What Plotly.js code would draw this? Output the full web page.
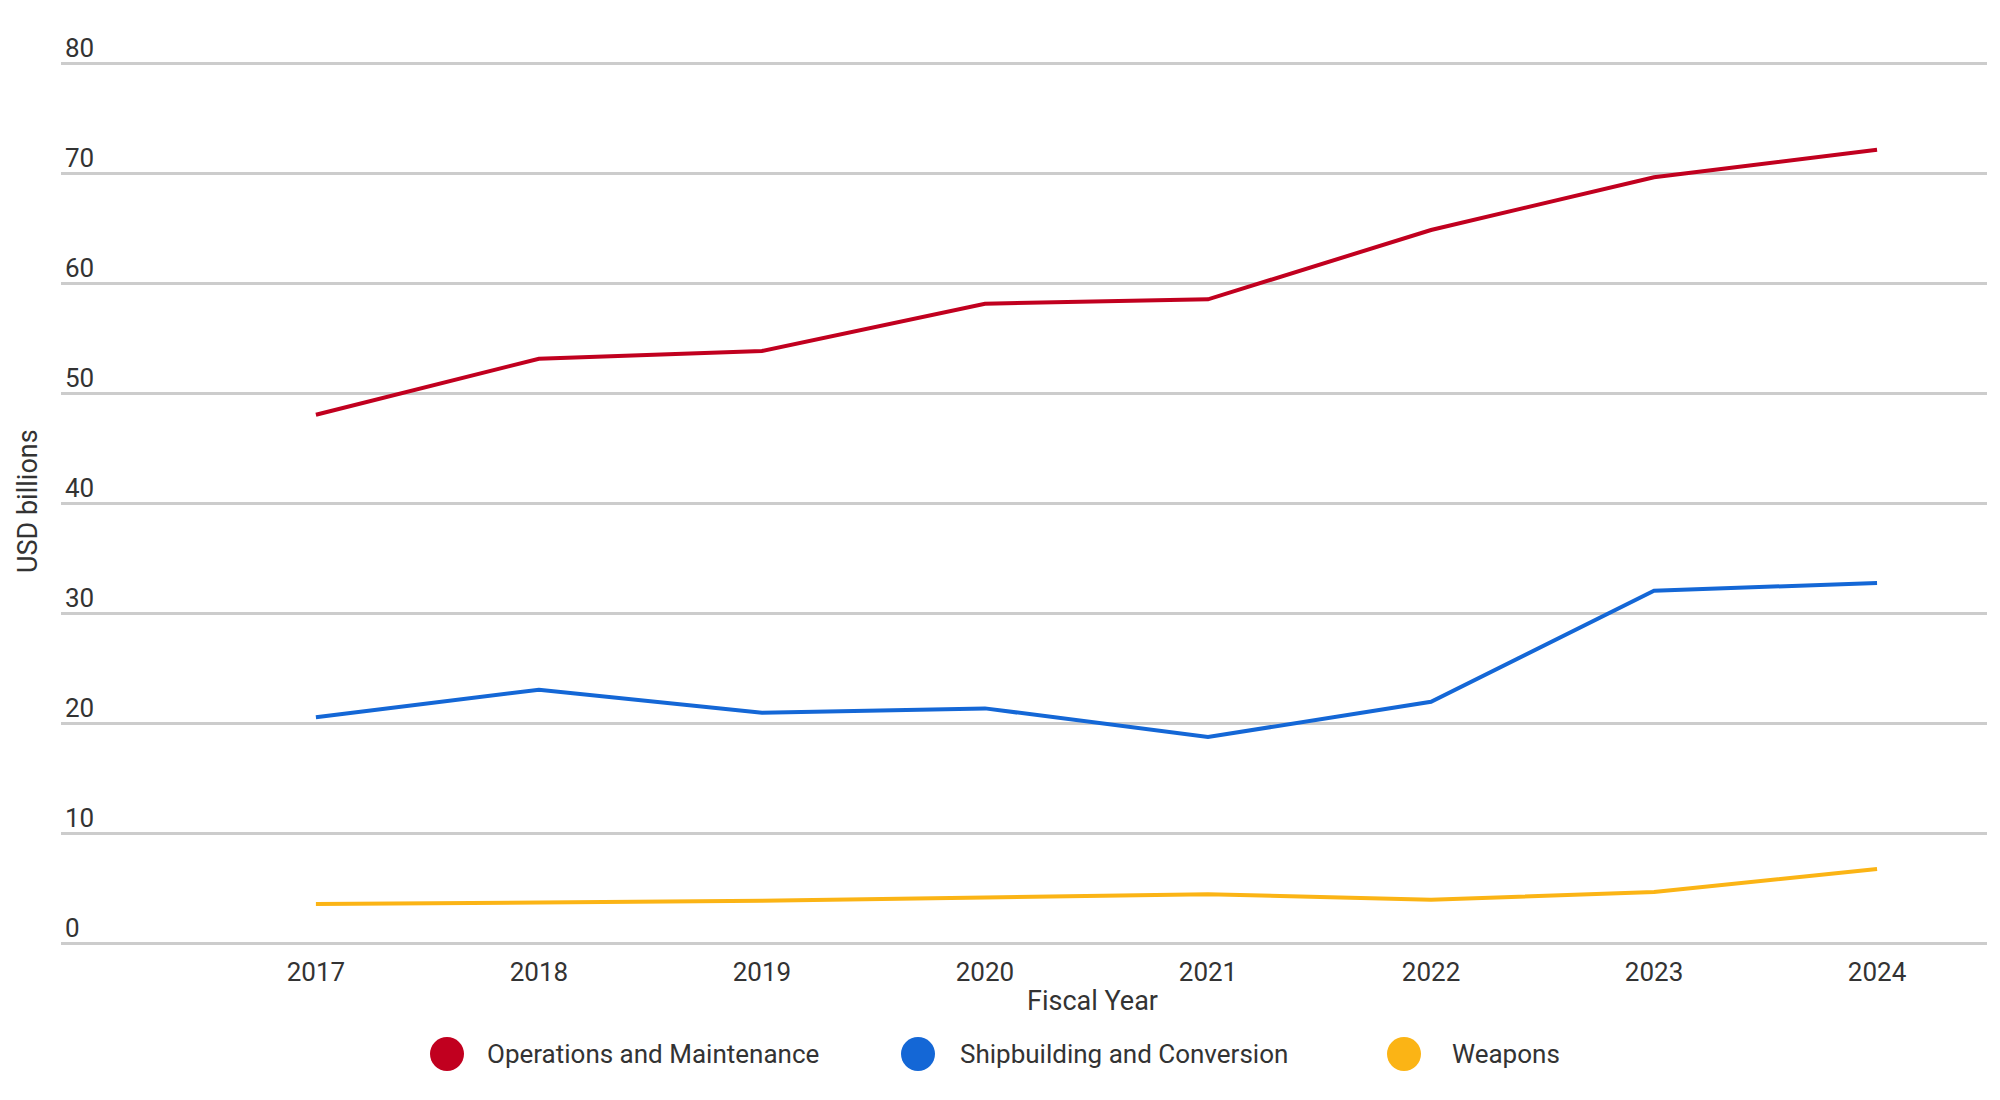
<!DOCTYPE html>
<html>
<head>
<meta charset="utf-8">
<script src="https://cdn.plot.ly/plotly-3.0.1.min.js"></script>
<style>html,body{margin:0;padding:0;background:#fff;}#chart{width:2000px;height:1100px;}</style>
</head>
<body>
<div id="chart"></div>
<script>
const years = [2017, 2018, 2019, 2020, 2021, 2022, 2023, 2024];
const operationsMaintenance = [48.1, 53.2, 53.9, 58.2, 58.6, 64.9, 69.7, 72.2];
const shipbuildingConversion = [20.6, 23.1, 21.0, 21.4, 18.8, 22.0, 32.1, 32.8];
const weapons = [3.6, 3.75, 3.9, 4.2, 4.5, 4.0, 4.7, 6.8];
const seriesNames = ["Operations and Maintenance", "Shipbuilding and Conversion", "Weapons"];
const seriesColors = ["#c1001f", "#1467d6", "#fbb415"];
const yTicks = [0, 10, 20, 30, 40, 50, 60, 70, 80];

const W = 2000, H = 1100;
const M = {l: 61, r: 13, t: 20, b: 153};
const PW = W - M.l - M.r, PH = H - M.t - M.b;
const px = v => (v - M.l) / PW;
const py = v => (H - M.b - v) / PH;

const textColor = "#333333";
const font = "Roboto, 'Noto Sans', sans-serif";

const data = [operationsMaintenance, shipbuildingConversion, weapons].map((vals, i) => ({
  type: "scatter",
  mode: "lines",
  x: years,
  y: vals,
  name: seriesNames[i],
  line: {color: seriesColors[i], width: 4},
  showlegend: false
}));

const legendX = [447, 918, 1404];
const legendTextX = [485, 958, 1450];
const legendY = 1054;
const shapes = legendX.map((cx, i) => ({
  type: "circle", xref: "paper", yref: "paper",
  x0: px(cx - 17), x1: px(cx + 17), y0: py(legendY + 17), y1: py(legendY - 17),
  fillcolor: seriesColors[i], line: {width: 0}
}));
const annotations = legendTextX.map((tx, i) => ({
  xref: "paper", yref: "paper", x: px(tx), y: py(legendY),
  xanchor: "left", yanchor: "middle", showarrow: false,
  text: seriesNames[i], font: {family: font, size: 26, color: textColor}
}));
annotations.push({
  xref: "paper", yref: "paper", x: px(1092), y: py(1001),
  xanchor: "center", yanchor: "middle", showarrow: false,
  text: "Fiscal Year", font: {family: font, size: 27, color: textColor}
});
annotations.push({
  xref: "paper", yref: "paper", x: px(28), y: py(501),
  xanchor: "center", yanchor: "middle", showarrow: false, textangle: -90,
  text: "USD billions", font: {family: font, size: 27, color: textColor}
});

const layout = {
  width: W, height: H,
  margin: M,
  paper_bgcolor: "#ffffff", plot_bgcolor: "#ffffff",
  font: {family: font, size: 26, color: textColor},
  showlegend: false,
  xaxis: {
    range: [2015.857, 2024.493],
    tickvals: years, ticktext: years.map(String),
    showgrid: false, zeroline: false, showline: false,
    ticks: "", ticklabelstandoff: 7,
    tickfont: {family: font, size: 26, color: textColor},
    fixedrange: true
  },
  yaxis: {
    range: [-0.3, 84],
    tickvals: yTicks, ticktext: yTicks.map(String),
    showgrid: true, gridcolor: "#cccccc", gridwidth: 3,
    zeroline: false, showline: false, ticks: "",
    ticklabelposition: "inside", ticklabelstandoff: 1, ticklabelshift: -16,
    tickfont: {family: font, size: 26, color: textColor},
    automargin: false,
    fixedrange: true
  },
  shapes: shapes,
  annotations: annotations
};

Plotly.newPlot("chart", data, layout, {displayModeBar: false, staticPlot: true});
</script>
</body>
</html>
